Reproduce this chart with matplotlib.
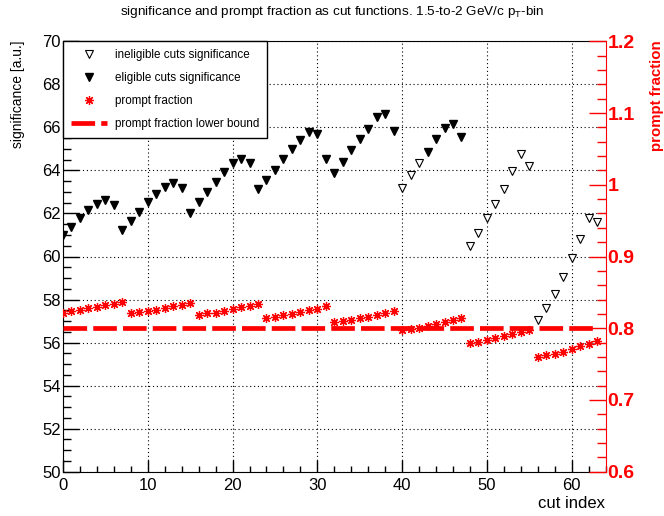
import matplotlib
matplotlib.use('Agg')
import matplotlib.pyplot as plt
from matplotlib.ticker import MultipleLocator, FuncFormatter
from matplotlib.lines import Line2D
import numpy as np

plt.rcParams['font.family'] = 'Liberation Sans'
plt.rcParams['mathtext.fontset'] = 'custom'
plt.rcParams['mathtext.rm'] = 'Liberation Sans'

# significance per cut index
significance = [61.0, 61.35, 61.8, 62.15, 62.45, 62.62, 62.4, 61.22,
                61.64, 62.06, 62.51, 62.91, 63.22, 63.42, 63.2, 62.03,
                62.52, 62.98, 63.47, 63.93, 64.33, 64.51, 64.35, 63.12,
                63.55, 64.01, 64.53, 64.99, 65.43, 65.79, 65.67, 64.53,
                63.89, 64.39, 64.95, 65.46, 65.92, 66.46, 66.6, 65.84,
                63.16, 63.77, 64.33, 64.85, 65.44, 65.98, 66.14, 65.56,
                60.49, 61.1, 61.77, 62.42, 63.13, 63.97, 64.77, 64.21,
                57.07, 57.63, 58.28, 59.05, 59.91, 60.8, 61.77, 61.61]

# cuts that fail the prompt fraction requirement
ineligible_cuts = [40, 41, 42, 48, 49, 50, 51, 52, 53, 54, 55,
                   56, 57, 58, 59, 60, 61, 62, 63]

prompt_fraction = [0.8219, 0.8237, 0.8255, 0.8279, 0.8297, 0.8321, 0.8339, 0.8359,
                   0.8209, 0.8223, 0.8241, 0.8261, 0.8279, 0.8311, 0.8325, 0.8349,
                   0.8191, 0.8209, 0.8219, 0.8237, 0.8263, 0.8290, 0.8311, 0.8335,
                   0.8140, 0.8163, 0.8181, 0.8200, 0.8227, 0.8251, 0.8275, 0.8303,
                   0.8080, 0.8102, 0.8116, 0.8140, 0.8163, 0.8181, 0.8209, 0.8237,
                   0.7975, 0.7992, 0.8010, 0.8032, 0.8056, 0.8088, 0.8112, 0.8140,
                   0.7791, 0.7814, 0.7837, 0.7865, 0.7888, 0.7920, 0.7954, 0.7982,
                   0.7605, 0.7623, 0.7641, 0.7675, 0.7707, 0.7753, 0.7781, 0.7819]

lower_bound = 0.8

cut_index = np.arange(len(significance))
sig = np.array(significance)
bad = np.isin(cut_index, ineligible_cuts)

fig = plt.figure(figsize=(6.64, 5.16), dpi=100)
ax = fig.add_axes([63 / 664, 1 - 471.7 / 516, 542.6 / 664, 430.4 / 516])
ax.set_xlim(0, 64)
ax.set_ylim(50, 70)

# dotted grid at major ticks
ax.grid(True, which='major', color='black', linestyle=(0, (1, 2.5)), linewidth=0.8)

h_bad, = ax.plot(cut_index[bad], sig[bad], linestyle='none', marker='v', ms=5.5,
                 mfc='white', mec='black', mew=0.8)
h_good, = ax.plot(cut_index[~bad], sig[~bad], linestyle='none', marker='v', ms=5.5,
                  color='black')

ax.xaxis.set_major_locator(MultipleLocator(10))
ax.xaxis.set_minor_locator(MultipleLocator(2))
ax.yaxis.set_major_locator(MultipleLocator(2))
ax.yaxis.set_minor_locator(MultipleLocator(0.5))
ax.tick_params(axis='x', which='major', direction='in', length=8.6, width=1, labelsize=12, pad=4.3, top=False)
ax.tick_params(axis='x', which='minor', direction='in', length=4.3, width=1, top=False)
ax.tick_params(axis='y', which='major', direction='in', length=11.5, width=1, labelsize=12, pad=1.5, right=False)
ax.tick_params(axis='y', which='minor', direction='in', length=5.8, width=1, right=False)
ax.spines['right'].set_visible(False)

ax2 = ax.twinx()
ax2.set_ylim(0.6, 1.2)
h_pf, = ax2.plot(cut_index, prompt_fraction, linestyle='none', marker=(8, 2, 0), ms=6.5,
                 color='red', mew=0.9)
ax2.hlines(lower_bound, cut_index[0], cut_index[-1], color='red', linewidth=3.4,
           linestyle=(0, (5, 1.3)))
ax2.yaxis.set_major_locator(MultipleLocator(0.1))
ax2.yaxis.set_minor_locator(MultipleLocator(0.02))
ax2.yaxis.set_major_formatter(FuncFormatter(lambda v, p: '%g' % round(v, 2)))
ax2.tick_params(axis='y', which='major', direction='in', length=12, width=1, colors='red',
                labelsize=14, pad=1.2)
ax2.tick_params(axis='y', which='minor', direction='in', length=6.3, width=1, colors='red')
for lbl in ax2.get_yticklabels():
    lbl.set_fontweight('bold')
for s in ['left', 'top', 'bottom']:
    ax2.spines[s].set_visible(False)
ax2.spines['right'].set_color('red')

lb_handle = Line2D([], [], color='red', linewidth=3.4, linestyle=(0, (5, 1.3)))
leg = ax2.legend([h_bad, h_good, h_pf, lb_handle],
                 ['ineligible cuts significance', 'eligible cuts significance',
                  'prompt fraction', 'prompt fraction lower bound'],
                 loc='upper left', bbox_to_anchor=(0, 1), borderaxespad=0, fontsize=8.4,
                 fancybox=False, framealpha=1, edgecolor='black', numpoints=1,
                 handlelength=3.1, handletextpad=0.7, labelspacing=0.95, borderpad=0.65)
leg.get_frame().set_linewidth(1)

fig.text(0.5, 1 - 12 / 516,
         r'significance and prompt fraction as cut functions. 1.5-to-2 GeV/c p$_\mathregular{T}$-bin',
         ha='center', va='center', fontsize=9.7)
fig.text(18 / 664, 1 - 40 / 516, 'significance [a.u.]', rotation=90, ha='center', va='top', fontsize=10)
fig.text(656.7 / 664, 1 - 40 / 516, 'prompt fraction', rotation=90, ha='center', va='top',
         fontsize=10.8, color='red', fontweight='bold')
fig.text(604.5 / 664, 1 - 503 / 516, 'cut index', ha='right', va='center', fontsize=12)

fig.savefig('out.png', dpi=100)
